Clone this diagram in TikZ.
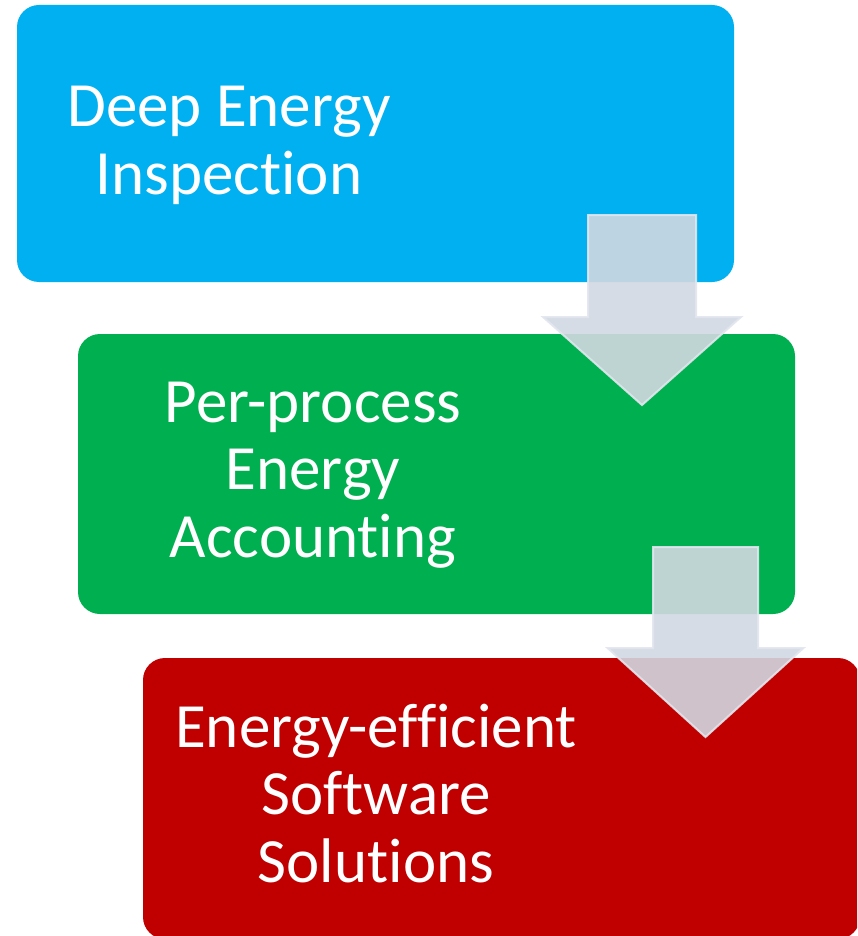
\documentclass[tikz,border=0pt]{standalone}
\usepackage{fontspec}
\setmainfont{Carlito}[Ligatures=NoCommon]
\definecolor{stageblue}{RGB}{0,176,240}
\definecolor{stagegreen}{RGB}{0,176,80}
\definecolor{stagered}{RGB}{192,0,0}
\definecolor{arrowfill}{RGB}{210,216,226}
\definecolor{arrowedge}{RGB}{226,230,238}
\begin{document}
\begin{tikzpicture}[x=1pt,y=-1pt,
  stage/.style={rectangle, draw=none, rounded corners=22pt, inner sep=0pt,
    minimum width=717pt},
  label/.style={text=white, align=center, anchor=base, inner sep=0pt,
    font=\fontsize{63}{67.5}\selectfont},
  flowarrow/.style={fill=arrowfill, fill opacity=0.9,
    draw=arrowedge, draw opacity=0.9, line width=2pt, line join=miter}]
  \useasboundingbox (0,0) rectangle (857,936);
  \clip (0,0) rectangle (857,936);

  % the three stages
  \node[stage, fill=stageblue,  minimum height=277pt] (inspect) at (375.5,143.5) {};
  \node[stage, fill=stagegreen, minimum height=280pt] (account) at (436.5,474)   {};
  \node[stage, fill=stagered,   minimum height=281pt] (solve)   at (501.5,798.5) {};

  % captions, placed by the baseline of their last line
  \node[label] (inspectText) at (229,194) {Deep Energy\\Inspection};
  \node[label] (accountText) at (313,557) {Per-process\\Energy\\Accounting};
  \node[label] (solveText)   at (376,882) {Energy-efficient\\Software\\Solutions};

  % block arrows leading from one stage to the next
  \coordinate (arrowA) at (642,215);
  \draw[flowarrow] (arrowA) ++(-54,0) -- ++(108,0) -- ++(0,102) -- ++(45,0)
     -- ++(-99,88) -- ++(-99,-88) -- ++(45,0) -- cycle;
  \coordinate (arrowB) at (705.5,547);
  \draw[flowarrow] (arrowB) ++(-52.5,0) -- ++(105,0) -- ++(0,101) -- ++(45.5,0)
     -- ++(-98,89) -- ++(-98,-89) -- ++(45.5,0) -- cycle;
\end{tikzpicture}
\end{document}
